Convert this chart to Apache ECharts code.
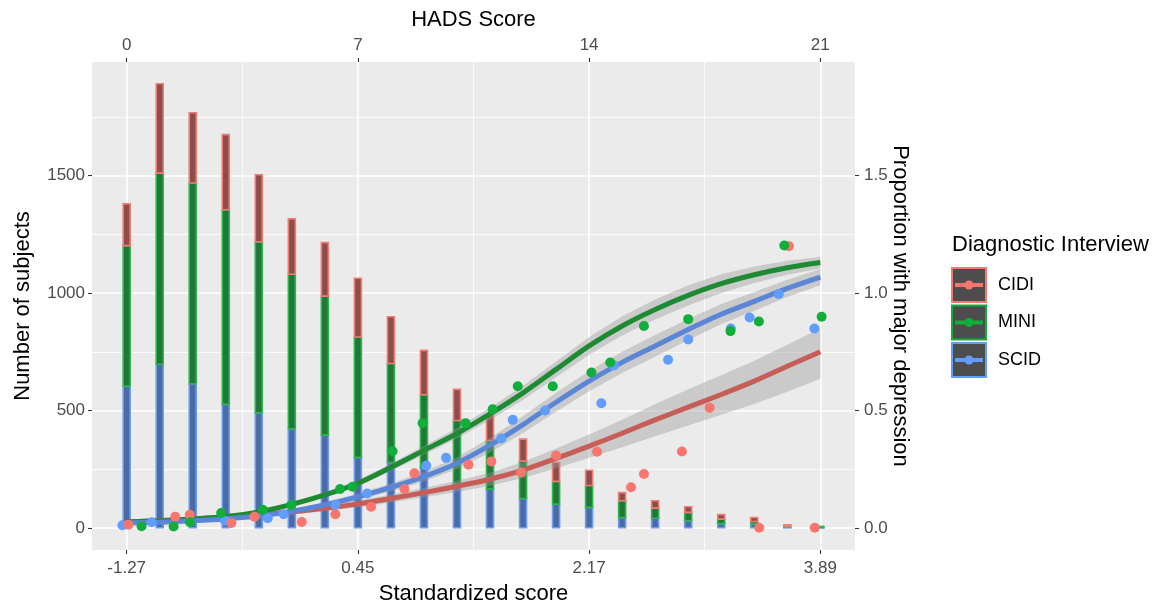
<!DOCTYPE html>
<html><head><meta charset="utf-8">
<script src="https://cdn.jsdelivr.net/npm/echarts@6/dist/echarts.min.js"></script>
<style>html,body{margin:0;padding:0;background:#fff}#c{width:1159px;height:606px}</style>
</head><body><div id="c"></div>
<script>
// ---- data ----
const hadsScores = [0,1,2,3,4,5,6,7,8,9,10,11,12,13,14,15,16,17,18,19,20,21];
// stacked bar segments (number of subjects), bottom to top: SCID, MINI, CIDI
const scidCounts = [604,697,614,526,490,422,395,300,278,255,188,165,125,101,87,44,41,30,18,16,4,1];
const miniCounts = [598,814,855,829,729,658,592,513,422,312,269,207,159,97,93,71,43,36,19,11,2,5];
const cidiCounts = [178,381,299,320,285,236,228,250,199,189,133,108,94,80,65,35,31,24,19,17,7,0];
// observed proportions [HADS position, proportion]
const cidiPoints = [[0.05,0.013],[1.47,0.047],[1.91,0.056],[3.17,0.021],[3.87,0.047],[5.3,0.025],[6.32,0.058],[7.4,0.09],[8.41,0.165],[8.71,0.232],[10.35,0.269],[11.04,0.283],[11.94,0.236],[13.0,0.308],[14.24,0.324],[15.27,0.173],[15.66,0.229],[16.81,0.325],[17.65,0.512],[19.15,0.0],[20.05,1.2],[20.83,0.0]];
const miniPoints = [[0.45,0.007],[1.42,0.006],[1.92,0.024],[2.86,0.063],[4.12,0.077],[4.98,0.097],[6.46,0.165],[6.84,0.175],[8.05,0.326],[8.96,0.446],[10.26,0.446],[11.08,0.505],[11.84,0.603],[12.9,0.603],[14.07,0.662],[14.64,0.704],[15.66,0.86],[17.0,0.889],[18.28,0.838],[19.14,0.879],[19.91,1.203],[21.04,0.899]];
const scidPoints = [[-0.13,0.011],[0.76,0.024],[2.98,0.03],[4.27,0.041],[4.75,0.058],[6.32,0.098],[7.28,0.146],[9.07,0.265],[9.67,0.298],[11.34,0.381],[11.69,0.46],[12.67,0.5],[14.37,0.531],[14.75,0.692],[16.39,0.716],[17.0,0.802],[18.29,0.849],[18.86,0.896],[19.74,0.996],[20.82,0.849]];
// fitted curves and confidence bands
const cidiFit  = [.025,.031,.038,.046,.056,.068,.083,.102,.125,.15,.177,.207,.246,.296,.348,.403,.46,.514,.568,.625,.688,.75];
const cidiLow  = [.017,.023,.03,.038,.047,.058,.071,.088,.108,.13,.153,.179,.212,.254,.298,.343,.39,.436,.482,.528,.58,.635];
const cidiHigh = [.033,.039,.046,.054,.065,.078,.095,.116,.142,.17,.201,.235,.28,.338,.398,.46,.526,.59,.65,.712,.78,.85];
const miniFit  = [.025,.03,.037,.048,.068,.1,.14,.19,.258,.33,.402,.485,.575,.675,.775,.86,.93,.99,1.04,1.078,1.108,1.13];
const miniLow  = [.021,.026,.032,.042,.061,.091,.129,.177,.242,.311,.38,.459,.545,.641,.737,.819,.887,.947,1.0,1.043,1.078,1.105];
const miniHigh = [.029,.034,.042,.054,.075,.109,.151,.203,.274,.349,.424,.511,.605,.709,.813,.901,.973,1.033,1.08,1.113,1.138,1.155];
const scidFit  = [.02,.024,.03,.038,.05,.07,.098,.132,.172,.218,.275,.352,.44,.535,.625,.705,.775,.845,.91,.965,1.02,1.068];
const scidLow  = [.016,.02,.025,.032,.043,.061,.087,.118,.155,.197,.249,.321,.404,.495,.582,.66,.729,.8,.867,.925,.983,1.033];
const scidHigh = [.024,.028,.035,.044,.057,.079,.109,.146,.189,.239,.301,.383,.476,.575,.668,.75,.821,.89,.953,1.005,1.057,1.103];
// tick labels
const hadsTicks = [0,7,14,21];
const hadsTickLabels = ['0','7','14','21'];
const stdTickLabels = ['-1.27','0.45','2.17','3.89'];
const countTicks = [0,500,1000,1500];
const countTickLabels = ['0','500','1000','1500'];
const propTicks = [0,0.5,1,1.5];
const propTickLabels = ['0.0','0.5','1.0','1.5'];
const hadsMinor = [3.5,10.5,17.5];
const countMinor = [250,750,1250,1750];

const FONT = '"Liberation Sans", Arial, Helvetica, sans-serif';
const COL = {
  cidi: {pt:'#F8766D', line:'#C65E57', fill:'#8E4D4B', border:'#F07C74'},
  mini: {pt:'#12AE3C', line:'#1E8A33', fill:'#21763A', border:'#2DB64C'},
  scid: {pt:'#619CFF', line:'#5A86D5', fill:'#4B6BA6', border:'#6D9DEB'}
};

const chart = echarts.init(document.getElementById('c'), null, {renderer:'canvas'});

// stacked bars drawn through the axes: each segment spans [base, base+count]
function stackedSegments(counts, below) {
  return hadsScores.map((h,i)=>{
    let base = 0;
    below.forEach(arr=>{ base += arr[i]; });
    return [h, base, base + counts[i]];
  });
}
function barSeries(name, counts, below, c) {
  return {
    type:'custom', name, xAxisIndex:0, yAxisIndex:0, z:2, silent:true,
    encode:{x:0, y:[1,2]},
    data: stackedSegments(counts, below),
    renderItem:(params, api)=>{
      if (api.value(2) - api.value(1) <= 0) return null;
      const p0 = api.coord([api.value(0), api.value(1)]);
      const p1 = api.coord([api.value(0), api.value(2)]);
      const w = 7;
      return {type:'rect', shape:{x:p0[0]-w/2, y:p1[1], width:w, height:p0[1]-p1[1]},
        style:{fill:c.fill, stroke:c.border, lineWidth:1.6}};
    }
  };
}
function bandSeries(low, high) {
  return {
    type:'custom', xAxisIndex:0, yAxisIndex:1, z:3, silent:true, data:[[0,0]],
    renderItem:(params, api)=>{
      const pts=[];
      for (let i=0;i<hadsScores.length;i++) pts.push(api.coord([hadsScores[i], high[i]]));
      for (let i=hadsScores.length-1;i>=0;i--) pts.push(api.coord([hadsScores[i], low[i]]));
      return {type:'polygon', shape:{points:pts}, style:{fill:'rgba(153,153,153,0.4)'}};
    }
  };
}
function lineSeries(fit, c) {
  return {type:'line', xAxisIndex:0, yAxisIndex:1, z:4, smooth:0.3, symbol:'none', silent:true,
    lineStyle:{color:c.line, width:5}, data: hadsScores.map((h,i)=>[h, fit[i]])};
}
function pointSeries(pts, c, z) {
  return {type:'scatter', xAxisIndex:0, yAxisIndex:1, z, symbolSize:10, silent:true,
    itemStyle:{color:c.pt, opacity:1}, data: pts};
}

const gridLines = [];
hadsTicks.forEach(v=>gridLines.push({xAxis:v, lineStyle:{color:'#fff', width:1.6, type:'solid'}}));
hadsMinor.forEach(v=>gridLines.push({xAxis:v, lineStyle:{color:'#fff', width:0.8, type:'solid'}}));
countTicks.forEach(v=>gridLines.push({yAxis:v, lineStyle:{color:'#fff', width:1.6, type:'solid'}}));
countMinor.forEach(v=>gridLines.push({yAxis:v, lineStyle:{color:'#fff', width:0.8, type:'solid'}}));

const tickStyle = {show:true, length:4, lineStyle:{color:'#333', width:1.1}};
const labelBase = {color:'#4D4D4D', fontSize:17, fontFamily:FONT};
const nameStyle = {color:'#000', fontSize:22, fontFamily:FONT};
const noLine = {show:false, onZero:false};

// legend
const legendItems = [['CIDI',COL.cidi,268],['MINI',COL.mini,305.5],['SCID',COL.scid,343]];
const graphic = [{type:'text', left:952, top:234, style:{text:'Diagnostic Interview', fill:'#000', font:'22px '+FONT}}];
legendItems.forEach(([lab,c,y])=>{
  graphic.push({type:'rect', shape:{x:952, y:y, width:34, height:34}, style:{fill:'#4D4D4D', stroke:c.pt, lineWidth:2}});
  graphic.push({type:'line', shape:{x1:955, y1:y+17, x2:983, y2:y+17}, style:{stroke:c.pt, lineWidth:4}});
  graphic.push({type:'circle', shape:{cx:969, cy:y+17, r:4.5}, style:{fill:c.pt}});
  graphic.push({type:'text', left:998, top:y+8, style:{text:lab, fill:'#000', font:'18px '+FONT}});
});

chart.setOption({
  animation:false,
  backgroundColor:'#fff',
  textStyle:{fontFamily:FONT},
  grid:{left:92, right:304, top:62, bottom:56, show:true, backgroundColor:'#EBEBEB', borderWidth:0,
        containLabel:false, outerBoundsMode:'none'},
  xAxis:[
    {type:'value', position:'bottom', min:-1.05, max:22.05,
     axisLine:noLine, splitLine:{show:false},
     axisTick:Object.assign({customValues:hadsTicks}, tickStyle),
     axisLabel:Object.assign({customValues:hadsTicks, margin:10,
       formatter:v=>stdTickLabels[hadsTicks.indexOf(v)]}, labelBase),
     name:'Standardized score', nameLocation:'middle', nameGap:33, nameMoveOverlap:false, nameTextStyle:nameStyle},
    {type:'value', position:'top', min:-1.05, max:22.05,
     axisLine:noLine, splitLine:{show:false},
     axisTick:Object.assign({customValues:hadsTicks}, tickStyle),
     axisLabel:Object.assign({customValues:hadsTicks, margin:8,
       formatter:v=>hadsTickLabels[hadsTicks.indexOf(v)]}, labelBase),
     name:'HADS Score', nameLocation:'middle', nameGap:31, nameMoveOverlap:false, nameTextStyle:nameStyle}
  ],
  yAxis:[
    {type:'value', position:'left', min:-94.5, max:1984.5,
     axisLine:noLine, splitLine:{show:false},
     axisTick:Object.assign({customValues:countTicks}, tickStyle),
     axisLabel:Object.assign({customValues:countTicks, margin:7,
       formatter:v=>countTickLabels[countTicks.indexOf(v)]}, labelBase),
     name:'Number of subjects', nameLocation:'middle', nameRotate:90, nameGap:58, nameMoveOverlap:false, nameTextStyle:nameStyle},
    {type:'value', position:'right', min:-0.0945, max:1.9845,
     axisLine:noLine, splitLine:{show:false},
     axisTick:Object.assign({customValues:propTicks}, tickStyle),
     axisLabel:Object.assign({customValues:propTicks, margin:9,
       formatter:v=>propTickLabels[propTicks.indexOf(v)]}, labelBase),
     name:'Proportion with major depression', nameLocation:'middle', nameRotate:-90, nameGap:34, nameMoveOverlap:false, nameTextStyle:nameStyle}
  ],
  graphic,
  series:[
    {type:'line', xAxisIndex:0, yAxisIndex:0, z:1, silent:true, symbol:'none', lineStyle:{opacity:0},
     data:[[0,0]], markLine:{silent:true, z:1, symbol:['none','none'], label:{show:false}, animation:false, data:gridLines}},
    barSeries('SCID', scidCounts, [], COL.scid),
    barSeries('MINI', miniCounts, [scidCounts], COL.mini),
    barSeries('CIDI', cidiCounts, [scidCounts, miniCounts], COL.cidi),
    bandSeries(cidiLow, cidiHigh), lineSeries(cidiFit, COL.cidi),
    bandSeries(miniLow, miniHigh), lineSeries(miniFit, COL.mini),
    bandSeries(scidLow, scidHigh), lineSeries(scidFit, COL.scid),
    pointSeries(scidPoints, COL.scid, 5),
    pointSeries(cidiPoints, COL.cidi, 6),
    pointSeries(miniPoints, COL.mini, 7)
  ]
});
</script></body></html>
